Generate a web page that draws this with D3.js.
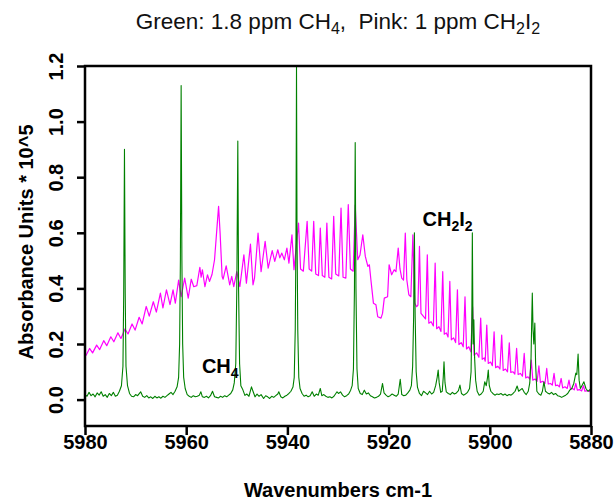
<!DOCTYPE html>
<html>
<head>
<meta charset="utf-8">
<script src="https://cdn.jsdelivr.net/npm/d3@7"></script>
<style>
  html, body { margin: 0; padding: 0; background: #fff; }
  svg text { font-family: "Liberation Sans", Arial, Helvetica, sans-serif; white-space: pre; }
</style>
</head>
<body>
<svg id="chart" width="614" height="502"></svg>
<script>
// CH4 spectrum, 1.8 ppm: [wavenumber (cm-1), absorbance units * 10^5]
const ch4Spectrum = [
  [5980.0,0.018],[5979.6,0.012],[5979.2,0.026],[5978.8,0.014],[5978.4,0.020],[5978.0,0.010],
  [5977.6,0.024],[5977.2,0.016],[5976.8,0.028],[5976.4,0.012],[5976.0,0.018],[5975.6,0.008],
  [5975.2,0.022],[5974.8,0.014],[5974.4,0.026],[5974.0,0.012],[5973.6,0.016],[5973.2,0.030],
  [5972.8,0.050],[5972.5,0.120],[5972.35,0.380],[5972.2,0.900],[5972.05,0.380],[5971.9,0.120],
  [5971.6,0.050],[5971.2,0.022],[5970.8,0.012],[5970.4,0.010],[5970.0,0.018],[5969.6,0.014],
  [5969.0,0.028],[5968.6,0.012],[5968.2,0.008],[5967.8,0.014],[5967.4,0.006],[5967.0,0.010],
  [5966.6,0.004],[5966.2,0.012],[5965.8,0.006],[5965.4,0.010],[5965.0,0.005],[5964.6,0.012],
  [5964.2,0.008],[5963.8,0.014],[5963.4,0.020],[5963.0,0.026],[5962.6,0.018],[5962.2,0.030],
  [5961.8,0.046],[5961.5,0.080],[5961.3,0.200],[5961.15,0.500],[5961.0,1.130],[5960.85,0.500],
  [5960.7,0.200],[5960.5,0.080],[5960.2,0.040],[5959.8,0.018],[5959.4,0.012],[5959.0,0.008],
  [5958.6,0.014],[5958.2,0.010],[5957.8,0.012],[5957.4,0.016],[5957.1,0.028],[5956.8,0.010],
  [5956.4,0.008],[5956.0,0.012],[5955.6,0.006],[5955.2,0.014],[5954.8,0.030],[5954.4,0.010],
  [5954.0,0.008],[5953.6,0.006],[5953.2,0.012],[5952.8,0.008],[5952.4,0.014],[5952.0,0.010],
  [5951.6,0.016],[5951.2,0.022],[5950.8,0.035],[5950.5,0.060],[5950.2,0.130],[5950.0,0.400],
  [5949.8,0.930],[5949.65,0.400],[5949.45,0.130],[5949.2,0.050],[5948.8,0.035],[5948.4,0.015],
  [5948.0,0.020],[5947.6,0.012],[5947.1,0.046],[5946.8,0.030],[5946.4,0.010],[5946.0,0.020],
  [5945.6,0.012],[5945.2,0.018],[5944.7,0.004],[5944.3,0.014],[5943.9,0.010],[5943.5,0.004],
  [5943.1,0.012],[5942.7,0.008],[5942.3,0.014],[5941.9,0.020],[5941.7,0.028],[5941.3,0.010],
  [5940.9,0.006],[5940.5,0.012],[5940.1,0.016],[5939.7,0.022],[5939.3,0.030],[5938.9,0.045],
  [5938.65,0.080],[5938.45,0.250],[5938.3,0.600],[5938.2,1.200],[5938.1,0.600],[5937.95,0.250],
  [5937.75,0.080],[5937.5,0.040],[5937.1,0.022],[5936.7,0.012],[5936.3,0.016],[5935.9,0.010],
  [5935.5,0.014],[5935.1,0.028],[5934.7,0.012],[5934.3,0.020],[5933.9,0.016],[5933.5,0.040],
  [5933.2,0.014],[5932.8,0.018],[5932.4,0.012],[5932.0,0.008],[5931.6,0.010],[5931.2,0.006],
  [5930.8,0.012],[5930.2,0.028],[5929.9,0.022],[5929.5,0.028],[5929.1,0.016],[5928.7,0.010],
  [5928.3,0.014],[5927.9,0.020],[5927.5,0.034],[5927.2,0.050],[5926.95,0.110],[5926.75,0.400],
  [5926.6,0.925],[5926.45,0.400],[5926.25,0.110],[5926.0,0.040],[5925.6,0.022],[5925.2,0.018],
  [5924.8,0.034],[5924.4,0.020],[5924.0,0.024],[5923.6,0.014],[5923.2,0.010],[5922.8,0.006],
  [5922.4,0.008],[5922.0,0.012],[5921.6,0.020],[5921.2,0.058],[5920.9,0.024],[5920.5,0.016],
  [5920.1,0.010],[5919.7,0.014],[5919.3,0.020],[5918.9,0.016],[5918.5,0.012],[5918.1,0.020],
  [5917.7,0.073],[5917.4,0.018],[5917.0,0.014],[5916.6,0.016],[5916.2,0.024],[5915.8,0.034],
  [5915.5,0.050],[5915.25,0.120],[5915.05,0.300],[5914.9,0.600],[5914.75,0.300],[5914.55,0.100],
  [5914.3,0.045],[5913.9,0.022],[5913.5,0.014],[5913.1,0.030],[5912.7,0.024],[5912.3,0.018],
  [5911.9,0.030],[5911.5,0.020],[5911.1,0.026],[5910.7,0.050],[5910.4,0.080],[5910.2,0.106],
  [5910.0,0.060],[5909.7,0.026],[5909.4,0.030],[5909.2,0.080],[5909.05,0.136],[5908.85,0.060],
  [5908.6,0.028],[5908.2,0.022],[5907.8,0.018],[5907.4,0.026],[5907.0,0.020],[5906.6,0.024],
  [5906.2,0.032],[5905.9,0.052],[5905.6,0.022],[5905.2,0.016],[5904.8,0.020],[5904.4,0.026],
  [5904.0,0.040],[5903.7,0.100],[5903.55,0.300],[5903.45,0.600],[5903.3,0.200],[5903.15,0.287],
  [5903.0,0.150],[5902.8,0.070],[5902.5,0.030],[5902.1,0.016],[5901.7,0.020],[5901.3,0.030],
  [5901.0,0.064],[5900.7,0.050],[5900.45,0.080],[5900.3,0.106],[5900.1,0.050],[5899.8,0.030],
  [5899.4,0.022],[5899.0,0.016],[5898.6,0.020],[5898.2,0.018],[5897.8,0.022],[5897.4,0.016],
  [5897.0,0.020],[5896.6,0.014],[5896.2,0.018],[5895.8,0.016],[5895.4,0.022],[5895.0,0.030],
  [5894.6,0.049],[5894.3,0.030],[5893.9,0.036],[5893.6,0.040],[5893.2,0.026],[5892.8,0.018],
  [5892.4,0.030],[5892.1,0.060],[5891.85,0.150],[5891.7,0.300],[5891.6,0.383],[5891.45,0.250],
  [5891.3,0.200],[5891.1,0.275],[5890.95,0.130],[5890.7,0.030],[5890.3,0.020],[5889.9,0.016],
  [5889.6,0.030],[5889.3,0.064],[5889.0,0.030],[5888.6,0.024],[5888.2,0.020],[5887.8,0.026],
  [5887.4,0.018],[5887.0,0.022],[5886.6,0.014],[5886.2,0.012],[5885.8,0.008],[5885.4,0.012],
  [5885.0,0.016],[5884.6,0.022],[5884.2,0.034],[5883.8,0.040],[5883.4,0.058],[5883.0,0.095],
  [5882.8,0.090],[5882.55,0.164],[5882.35,0.070],[5882.1,0.040],[5881.8,0.050],[5881.4,0.064],
  [5881.0,0.040],[5880.6,0.030],[5880.2,0.036],[5880.0,0.034]
];

// CH2I2 spectrum, 1 ppm: [wavenumber (cm-1), absorbance units * 10^5]
const ch2i2Spectrum = [
  [5980.0,0.155],[5979.7,0.162],[5979.1,0.184],[5978.5,0.168],[5977.7,0.196],[5977.1,0.180],
  [5976.3,0.212],[5975.7,0.194],[5974.9,0.226],[5974.3,0.208],[5973.5,0.240],[5972.9,0.220],
  [5972.1,0.254],[5971.5,0.236],[5970.7,0.272],[5970.1,0.250],[5969.3,0.296],[5968.7,0.272],
  [5967.9,0.335],[5967.3,0.300],[5966.5,0.352],[5965.9,0.315],[5965.1,0.383],[5964.6,0.330],
  [5963.9,0.395],[5963.2,0.342],[5962.6,0.395],[5962.15,0.347],[5961.5,0.430],[5961.0,0.370],
  [5960.3,0.437],[5959.6,0.365],[5959.0,0.433],[5958.5,0.406],[5957.9,0.410],[5957.3,0.476],
  [5957.05,0.440],[5956.8,0.467],[5956.3,0.406],[5955.8,0.449],[5955.4,0.425],[5954.9,0.450],
  [5954.4,0.503],[5953.9,0.623],[5953.6,0.695],[5953.3,0.599],[5952.9,0.443],[5952.7,0.433],
  [5952.1,0.481],[5951.4,0.413],[5951.0,0.443],[5950.6,0.406],[5950.0,0.460],[5949.4,0.406],
  [5948.6,0.521],[5948.1,0.419],[5947.3,0.559],[5946.8,0.413],[5946.5,0.437],[5945.8,0.599],
  [5945.2,0.460],[5944.4,0.569],[5943.8,0.473],[5943.0,0.536],[5942.5,0.497],[5941.9,0.539],
  [5941.5,0.510],[5941.1,0.527],[5940.6,0.503],[5940.1,0.545],[5939.7,0.491],[5939.1,0.593],
  [5938.7,0.467],[5937.8,0.635],[5937.4,0.470],[5936.85,0.462],[5936.1,0.641],[5935.7,0.470],
  [5935.2,0.462],[5934.8,0.641],[5934.4,0.452],[5933.85,0.446],[5933.5,0.617],[5933.1,0.446],
  [5932.6,0.440],[5932.2,0.635],[5931.8,0.440],[5931.25,0.434],[5930.85,0.659],[5930.45,0.452],
  [5929.85,0.445],[5929.4,0.689],[5929.0,0.440],[5928.45,0.437],[5927.97,0.701],[5927.55,0.470],
  [5927.0,0.462],[5926.6,0.700],[5926.1,0.503],[5925.65,0.520],[5925.1,0.593],[5924.6,0.515],
  [5924.1,0.479],[5923.8,0.485],[5923.5,0.431],[5923.0,0.347],[5922.5,0.341],[5922.15,0.298],
  [5921.5,0.293],[5921.2,0.310],[5920.85,0.365],[5920.2,0.370],[5919.9,0.485],[5919.4,0.449],
  [5918.9,0.467],[5918.55,0.460],[5918.1,0.545],[5917.75,0.470],[5917.4,0.437],[5917.05,0.430],
  [5916.7,0.599],[5916.4,0.431],[5916.0,0.377],[5915.6,0.370],[5915.2,0.593],[5914.85,0.347],
  [5914.45,0.334],[5914.2,0.340],[5913.9,0.551],
  [5913.6,0.310],[5913.15,0.300],[5912.7,0.290],[5912.35,0.521],[5912.05,0.275],[5911.6,0.280],
  [5911.15,0.265],[5910.8,0.491],[5910.5,0.255],[5910.05,0.262],[5909.65,0.245],[5909.3,0.460],
  [5909.0,0.235],[5908.6,0.240],[5908.25,0.225],[5907.9,0.425],[5907.6,0.215],[5907.15,0.222],
  [5906.75,0.205],[5906.4,0.395],[5906.1,0.198],[5905.65,0.205],[5905.25,0.190],[5904.9,0.370],
  [5904.6,0.182],[5904.15,0.190],[5903.75,0.172],[5903.4,0.334],[5903.1,0.160],[5902.6,0.168],
  [5902.15,0.152],[5901.8,0.293],[5901.5,0.145],[5901.1,0.150],[5900.9,0.138],[5900.6,0.268],
  [5900.3,0.130],[5899.85,0.135],[5899.5,0.122],[5899.15,0.244],[5898.85,0.115],[5898.4,0.120],
  [5898.0,0.110],[5897.65,0.232],[5897.35,0.105],[5896.9,0.110],[5896.5,0.100],[5896.15,0.204],
  [5895.85,0.098],[5895.4,0.100],[5895.05,0.092],[5894.7,0.184],[5894.4,0.090],[5893.95,0.094],
  [5893.55,0.084],[5893.2,0.166],[5892.9,0.078],[5892.45,0.082],[5892.1,0.074],[5891.8,0.142],
  [5891.5,0.070],[5891.05,0.074],[5890.65,0.066],[5890.3,0.121],[5890.0,0.062],[5889.55,0.066],
  [5889.1,0.058],[5888.75,0.112],[5888.45,0.056],[5888.0,0.058],[5887.65,0.052],[5887.3,0.094],
  [5887.0,0.050],[5886.6,0.052],[5886.25,0.046],[5885.9,0.076],[5885.6,0.042],[5885.15,0.046],
  [5884.7,0.040],[5884.35,0.070],[5884.05,0.038],[5883.65,0.040],[5883.3,0.035],[5883.0,0.058],
  [5882.7,0.034],[5882.25,0.036],[5881.85,0.031],[5881.5,0.050],[5881.2,0.030],[5880.7,0.032],
  [5880.3,0.029],[5880.0,0.040]
];

const xTicks = [5980, 5960, 5940, 5920, 5900, 5880];
const yTicks = [0.0, 0.2, 0.4, 0.6, 0.8, 1.0, 1.2];
const xDomain = [5980, 5880];
const yDomain = [-0.095, 1.2];

// Text runs: [text, isSubscript]
const titleRuns = [["Green: 1.8 ppm CH", false], ["4", true], [",  Pink: 1 ppm CH", false], ["2", true], ["I", false], ["2", true]];
const ch4LabelRuns = [["CH", false], ["4", true]];
const ch2i2LabelRuns = [["CH", false], ["2", true], ["I", false], ["2", true]];
const ch4Label = { wn: 5956.9, value: 0.096 };
const ch2i2Label = { wn: 5913.3, value: 0.626 };

const plot = { left: 85, right: 591, top: 66, bottom: 426 };
const svg = d3.select("#chart");

const x = d3.scaleLinear().domain(xDomain).range([plot.left, plot.right]);
const y = d3.scaleLinear().domain(yDomain).range([plot.bottom, plot.top]);

svg.append("defs").append("clipPath").attr("id", "plot-clip")
  .append("rect")
  .attr("x", plot.left).attr("y", plot.top - 1)
  .attr("width", plot.right - plot.left).attr("height", plot.bottom - plot.top + 1);

const line = d3.line().x(d => x(d[0])).y(d => y(d[1]));

const traces = svg.append("g").attr("clip-path", "url(#plot-clip)");
traces.append("path").datum(ch2i2Spectrum)
  .attr("d", line).attr("fill", "none")
  .attr("stroke", "#ff00ff").attr("stroke-width", 1.2).attr("stroke-linejoin", "round");
traces.append("path").datum(ch4Spectrum)
  .attr("d", line).attr("fill", "none")
  .attr("stroke", "#008000").attr("stroke-width", 1.1).attr("stroke-linejoin", "round");

// Axes
const yAxis = svg.append("g")
  .attr("transform", `translate(${plot.left},0)`)
  .call(d3.axisLeft(y).tickValues(yTicks).tickSize(8).tickFormat(d3.format(".1f")));
yAxis.select(".domain").remove();
yAxis.selectAll(".tick line").attr("stroke", "#000").attr("stroke-width", 2.5);
yAxis.selectAll(".tick text")
  .attr("x", null).attr("dy", null)
  .attr("transform", "translate(-22,0) rotate(-90)")
  .attr("text-anchor", "middle")
  .attr("fill", "#000")
  .style("font-size", "20px").style("font-weight", "bold");

const xAxis = svg.append("g")
  .attr("transform", `translate(0,${plot.bottom})`)
  .call(d3.axisBottom(x).tickValues(xTicks).tickSize(9).tickFormat(d3.format("d")));
xAxis.select(".domain").remove();
xAxis.selectAll(".tick line").attr("stroke", "#000").attr("stroke-width", 2.5);
xAxis.selectAll(".tick text")
  .attr("y", 23).attr("dy", null)
  .attr("fill", "#000")
  .style("font-size", "20px").style("font-weight", "bold");

// Frame
svg.append("rect")
  .attr("x", plot.left).attr("y", plot.top)
  .attr("width", plot.right - plot.left).attr("height", plot.bottom - plot.top)
  .attr("fill", "none").attr("stroke", "#000").attr("stroke-width", 2.5);

// Writes text runs, lowering the subscript runs
function runText(sel, runs, subSize, shift) {
  runs.forEach(([t, sub], i) => {
    const prevSub = i > 0 && runs[i - 1][1];
    const ts = sel.append("tspan").text(t);
    if (sub) ts.attr("font-size", subSize).attr("dy", prevSub ? 0 : shift);
    else if (prevSub) ts.attr("dy", -shift);
  });
  return sel;
}

// Title
runText(svg.append("text")
  .attr("x", (plot.left + plot.right) / 2).attr("y", 29)
  .attr("text-anchor", "middle").attr("font-size", 22.5).attr("fill", "#111"),
  titleRuns, 16, 5);

// Axis titles
svg.append("text")
  .attr("x", (plot.left + plot.right) / 2).attr("y", 497)
  .attr("text-anchor", "middle").attr("font-size", 20).attr("font-weight", "bold")
  .text("Wavenumbers cm-1");
svg.append("text")
  .attr("transform", `translate(33,${(plot.top + plot.bottom) / 2 - 4}) rotate(-90)`)
  .attr("text-anchor", "middle").attr("font-size", 20).attr("font-weight", "bold")
  .text("Absorbance Units * 10^5");

// Species labels
runText(svg.append("text")
  .attr("x", x(ch4Label.wn)).attr("y", y(ch4Label.value))
  .attr("font-size", 20).attr("font-weight", "bold"),
  ch4LabelRuns, 14, 5);
runText(svg.append("text")
  .attr("x", x(ch2i2Label.wn)).attr("y", y(ch2i2Label.value))
  .attr("font-size", 20).attr("font-weight", "bold"),
  ch2i2LabelRuns, 14, 5);
</script>
</body>
</html>
